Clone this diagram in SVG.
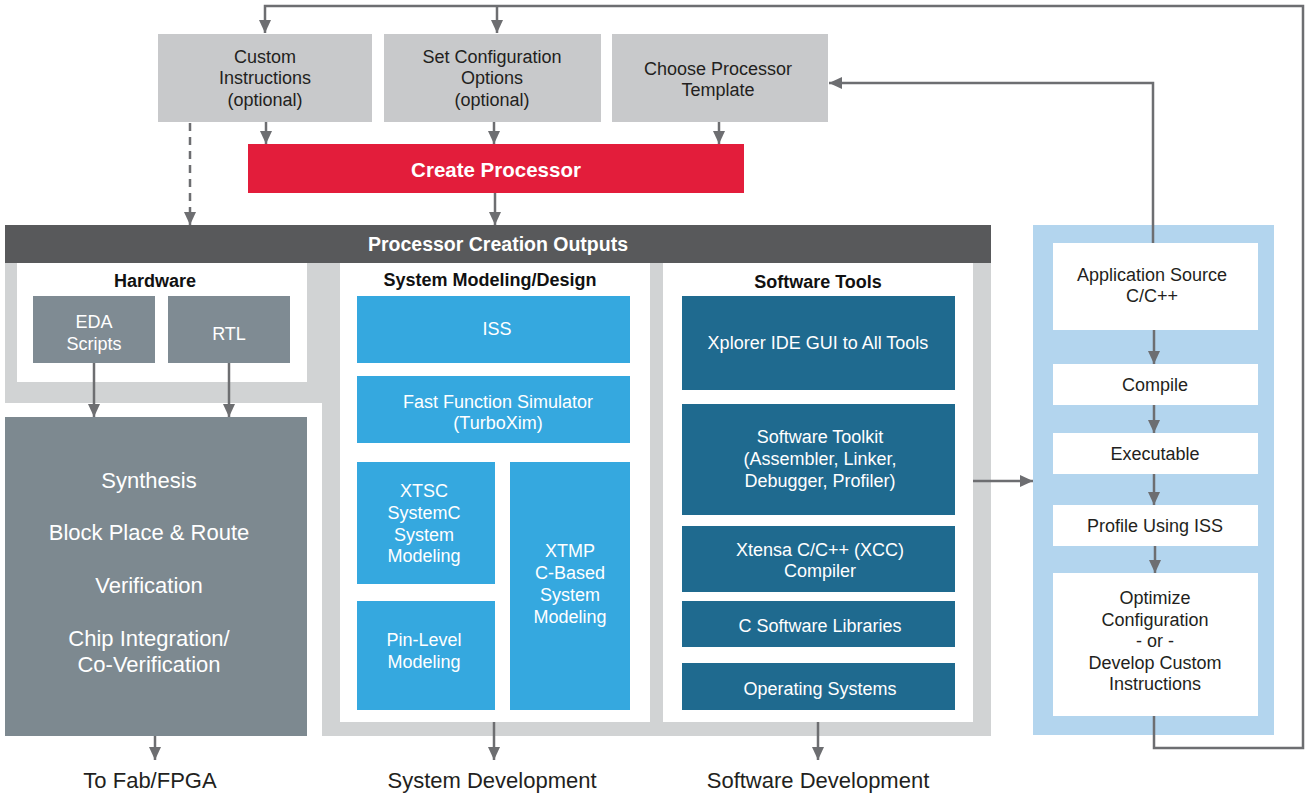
<svg xmlns="http://www.w3.org/2000/svg" width="1310" height="800" viewBox="0 0 1310 800">
<defs>
<marker id="ah" markerUnits="userSpaceOnUse" markerWidth="14" markerHeight="14" refX="13" refY="7" orient="auto">
<path d="M0,1 L13,7 L0,13 z" fill="#6d6e71"/>
</marker>
<style>
text{font-family:"Liberation Sans",Arial,sans-serif;text-anchor:middle}
.dk{fill:#231f20;font-size:18px}
.hd{fill:#111;font-size:18px;font-weight:bold}
.wt{fill:#fff;font-size:18px}
.syn{fill:#fff;font-size:22px}
.lbl{fill:#231f20;font-size:22px}
.ln{fill:none;stroke:#6d6e71;stroke-width:2.5}
.top{fill:#c8c9cb}
.hw{fill:#7f8b93}
.blu{fill:#35a8df}
.sw{fill:#1f6a8f}
.wb{fill:#fff}
</style>
</defs>
<rect width="1310" height="800" fill="#fff"/>

<g id="frame">
<path d="M5,263 H991 V736 H322 V403 H5 Z" fill="#d1d3d4"/>
<rect x="1033" y="225" width="241" height="510" fill="#b3d5ee"/>
</g>

<g id="custom-instructions">
<rect class="top" x="158" y="34" width="214" height="88"/>
<text class="dk" x="265" y="63">Custom</text>
<text class="dk" x="265" y="84">Instructions</text>
<text class="dk" x="265" y="106">(optional)</text>
</g>
<g id="set-config">
<rect class="top" x="384" y="34" width="217" height="88"/>
<text class="dk" x="492" y="63">Set Configuration</text>
<text class="dk" x="492" y="84">Options</text>
<text class="dk" x="492" y="106">(optional)</text>
</g>
<g id="choose-template">
<rect class="top" x="612" y="34" width="216" height="88"/>
<text class="dk" x="718" y="75">Choose Processor</text>
<text class="dk" x="718" y="96">Template</text>
</g>
<g id="create-processor">
<rect x="248" y="144" width="496" height="49" fill="#e31d3b"/>
<text x="496" y="177" fill="#fff" font-size="20.5" font-weight="bold">Create Processor</text>
</g>
<g id="outputs-bar">
<rect x="5" y="225" width="986" height="38" fill="#58595b"/>
<text x="498" y="251" fill="#fff" font-size="19.5" font-weight="bold">Processor Creation Outputs</text>
</g>

<g id="hardware">
<rect class="wb" x="17" y="263" width="290" height="119"/>
<text class="hd" x="155" y="287">Hardware</text>
</g>
<g id="eda-scripts">
<rect class="hw" x="33" y="296" width="122" height="67"/>
<text class="wt" x="94" y="328">EDA</text>
<text class="wt" x="94" y="350">Scripts</text>
</g>
<g id="rtl">
<rect class="hw" x="168" y="296" width="122" height="67"/>
<text class="wt" x="229" y="340">RTL</text>
</g>
<g id="synthesis">
<rect x="5" y="417" width="302" height="319" fill="#7d8990"/>
<text class="syn" x="149" y="488">Synthesis</text>
<text class="syn" x="149" y="540">Block Place &amp; Route</text>
<text class="syn" x="149" y="593">Verification</text>
<text class="syn" x="149" y="646">Chip Integration/</text>
<text class="syn" x="149" y="672">Co-Verification</text>
</g>

<g id="system-modeling">
<rect class="wb" x="340" y="263" width="310" height="459"/>
<text class="hd" x="490" y="286">System Modeling/Design</text>
</g>
<g id="iss">
<rect class="blu" x="357" y="296" width="273" height="67"/>
<text class="wt" x="497" y="335">ISS</text>
</g>
<g id="fast-function-sim">
<rect class="blu" x="357" y="376" width="273" height="67"/>
<text class="wt" x="498" y="408">Fast Function Simulator</text>
<text class="wt" x="498" y="429">(TurboXim)</text>
</g>
<g id="xtsc">
<rect class="blu" x="357" y="462" width="138" height="122"/>
<text class="wt" x="424" y="497">XTSC</text>
<text class="wt" x="424" y="519">SystemC</text>
<text class="wt" x="424" y="541">System</text>
<text class="wt" x="424" y="562">Modeling</text>
</g>
<g id="pin-level">
<rect class="blu" x="357" y="601" width="138" height="109"/>
<text class="wt" x="424" y="646">Pin-Level</text>
<text class="wt" x="424" y="668">Modeling</text>
</g>
<g id="xtmp">
<rect class="blu" x="510" y="462" width="120" height="248"/>
<text class="wt" x="570" y="557">XTMP</text>
<text class="wt" x="570" y="579">C-Based</text>
<text class="wt" x="570" y="601">System</text>
<text class="wt" x="570" y="623">Modeling</text>
</g>

<g id="software-tools">
<rect class="wb" x="663" y="263" width="310" height="459"/>
<text class="hd" x="818" y="288">Software Tools</text>
</g>
<g id="xplorer">
<rect class="sw" x="682" y="296" width="273" height="94"/>
<text class="wt" x="818" y="349">Xplorer IDE GUI to All Tools</text>
</g>
<g id="toolkit">
<rect class="sw" x="682" y="404" width="273" height="111"/>
<text class="wt" x="820" y="443">Software Toolkit</text>
<text class="wt" x="820" y="465">(Assembler, Linker,</text>
<text class="wt" x="820" y="487">Debugger, Profiler)</text>
</g>
<g id="xcc">
<rect class="sw" x="682" y="526" width="273" height="66"/>
<text class="wt" x="820" y="556">Xtensa C/C++ (XCC)</text>
<text class="wt" x="820" y="577">Compiler</text>
</g>
<g id="c-libraries">
<rect class="sw" x="682" y="601" width="273" height="46"/>
<text class="wt" x="820" y="632">C Software Libraries</text>
</g>
<g id="os">
<rect class="sw" x="682" y="663" width="273" height="47"/>
<text class="wt" x="820" y="695">Operating Systems</text>
</g>

<g id="app-source">
<rect class="wb" x="1053" y="243" width="205" height="87"/>
<text class="dk" x="1152" y="281">Application Source</text>
<text class="dk" x="1152" y="302">C/C++</text>
</g>
<g id="compile">
<rect class="wb" x="1053" y="364" width="205" height="41"/>
<text class="dk" x="1155" y="391">Compile</text>
</g>
<g id="executable">
<rect class="wb" x="1053" y="433" width="205" height="41"/>
<text class="dk" x="1155" y="460">Executable</text>
</g>
<g id="profile">
<rect class="wb" x="1053" y="505" width="205" height="41"/>
<text class="dk" x="1155" y="532">Profile Using ISS</text>
</g>
<g id="optimize">
<rect class="wb" x="1053" y="573" width="205" height="143"/>
<text class="dk" x="1155" y="604">Optimize</text>
<text class="dk" x="1155" y="626">Configuration</text>
<text class="dk" x="1155" y="647">- or -</text>
<text class="dk" x="1155" y="669">Develop Custom</text>
<text class="dk" x="1155" y="690">Instructions</text>
</g>

<g id="labels">
<text class="lbl" x="150" y="788">To Fab/FPGA</text>
<text class="lbl" x="492" y="788">System Development</text>
<text class="lbl" x="818" y="788">Software Development</text>
</g>

<g id="connectors">
<path class="ln" d="M1154,716 V748 H1303 V6 H265 V33" marker-end="url(#ah)"/>
<path class="ln" d="M497,6 V33" marker-end="url(#ah)"/>
<path class="ln" d="M1153,243 V83 H829" marker-end="url(#ah)"/>
<path class="ln" d="M266,122 V144" marker-end="url(#ah)"/>
<path class="ln" d="M494,122 V144" marker-end="url(#ah)"/>
<path class="ln" d="M719,122 V144" marker-end="url(#ah)"/>
<path class="ln" d="M190,123 V225" stroke-dasharray="8,6" marker-end="url(#ah)"/>
<path class="ln" d="M495,193 V225" marker-end="url(#ah)"/>
<path class="ln" d="M94,363 V417" marker-end="url(#ah)"/>
<path class="ln" d="M229,363 V417" marker-end="url(#ah)"/>
<path class="ln" d="M155,736 V760" marker-end="url(#ah)"/>
<path class="ln" d="M494,722 V760" marker-end="url(#ah)"/>
<path class="ln" d="M818,722 V760" marker-end="url(#ah)"/>
<path class="ln" d="M973,481 H1033" marker-end="url(#ah)"/>
<path class="ln" d="M1154,330 V364" marker-end="url(#ah)"/>
<path class="ln" d="M1154,405 V433" marker-end="url(#ah)"/>
<path class="ln" d="M1154,474 V505" marker-end="url(#ah)"/>
<path class="ln" d="M1155,546 V573" marker-end="url(#ah)"/>
</g>
</svg>
